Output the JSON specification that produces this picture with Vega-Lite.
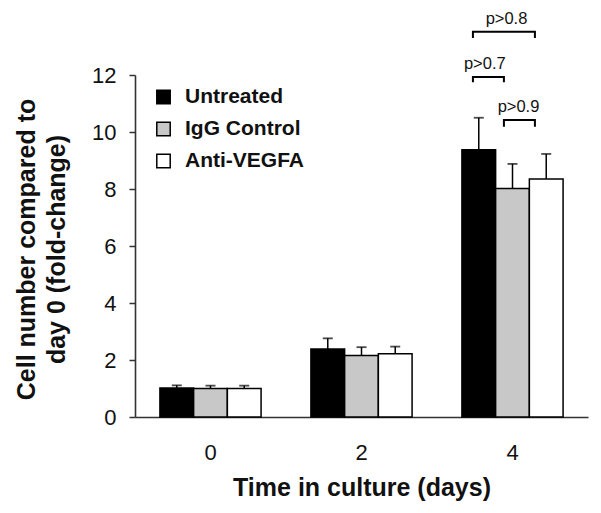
{
  "$schema": "https://vega.github.io/schema/vega-lite/v6.json",
  "width": 453,
  "height": 342,
  "autosize": {"type": "none"},
  "padding": {"left": 135, "top": 75, "right": 13, "bottom": 96},
  "background": "white",
  "config": {
    "view": {"stroke": null},
    "font": "Liberation Sans",
    "axis": {
      "grid": false,
      "domainColor": "#333333",
      "domainWidth": 1.6,
      "tickColor": "#333333",
      "tickWidth": 1.5,
      "labelFont": "Liberation Sans",
      "labelFontSize": 22,
      "labelColor": "#111111",
      "titleFont": "Liberation Sans",
      "titleFontSize": 25,
      "titleFontWeight": "bold",
      "titleColor": "#111111"
    },
    "legend": {
      "orient": "none",
      "legendX": 18,
      "legendY": 11.5,
      "padding": 0,
      "symbolType": "square",
      "symbolSize": 180,
      "symbolStrokeColor": "black",
      "symbolStrokeWidth": 1.5,
      "labelFont": "Liberation Sans",
      "labelFontSize": 21,
      "labelFontWeight": "bold",
      "labelColor": "#111111",
      "labelOffset": 11,
      "rowPadding": 10
    }
  },
  "datasets": {
    "bars": [
      {"day": 0, "group": "Untreated", "mean": 1.02, "upper": 1.11},
      {"day": 0, "group": "IgG Control", "mean": 1.0, "upper": 1.1},
      {"day": 0, "group": "Anti-VEGFA", "mean": 1.0, "upper": 1.1},
      {"day": 2, "group": "Untreated", "mean": 2.39, "upper": 2.76},
      {"day": 2, "group": "IgG Control", "mean": 2.16, "upper": 2.45},
      {"day": 2, "group": "Anti-VEGFA", "mean": 2.22, "upper": 2.47},
      {"day": 4, "group": "Untreated", "mean": 9.38, "upper": 10.5},
      {"day": 4, "group": "IgG Control", "mean": 8.02, "upper": 8.88},
      {"day": 4, "group": "Anti-VEGFA", "mean": 8.35, "upper": 9.23}
    ],
    "brackets": [
      {"bracket": "p>0.7", "day": 4, "group": "Untreated", "y": 11.75, "order": 1},
      {"bracket": "p>0.7", "day": 4, "group": "Untreated", "y": 11.93, "order": 2},
      {"bracket": "p>0.7", "day": 4, "group": "IgG Control", "y": 11.93, "order": 3},
      {"bracket": "p>0.7", "day": 4, "group": "IgG Control", "y": 11.75, "order": 4},
      {"bracket": "p>0.9", "day": 4, "group": "IgG Control", "y": 10.18, "order": 1},
      {"bracket": "p>0.9", "day": 4, "group": "IgG Control", "y": 10.42, "order": 2},
      {"bracket": "p>0.9", "day": 4, "group": "Anti-VEGFA", "y": 10.42, "order": 3},
      {"bracket": "p>0.9", "day": 4, "group": "Anti-VEGFA", "y": 10.18, "order": 4},
      {"bracket": "p>0.8", "day": 4, "group": "Untreated", "y": 13.3, "order": 1},
      {"bracket": "p>0.8", "day": 4, "group": "Untreated", "y": 13.52, "order": 2},
      {"bracket": "p>0.8", "day": 4, "group": "Anti-VEGFA", "y": 13.52, "order": 3},
      {"bracket": "p>0.8", "day": 4, "group": "Anti-VEGFA", "y": 13.3, "order": 4}
    ],
    "pleft": [
      {"label": "p>0.7", "day": 4, "group": "Untreated", "y": 11.93},
      {"label": "p>0.9", "day": 4, "group": "IgG Control", "y": 10.42}
    ],
    "pmid": [
      {"label": "p>0.8", "day": 4, "group": "IgG Control", "y": 13.52}
    ]
  },
  "encoding": {
    "x": {
      "field": "day",
      "type": "ordinal",
      "title": "Time in culture (days)",
      "scale": {"paddingInner": 0.33, "paddingOuter": 0.165},
      "axis": {
        "labelAngle": 0,
        "ticks": false,
        "tickSize": 0,
        "labelPadding": 25,
        "titleY": 78,
        "titleBaseline": "alphabetic"
      }
    }
  },
  "resolve": {"scale": {"xOffset": "independent"}},
  "layer": [
    {
      "layer": [
        {
          "data": {"name": "bars"},
          "mark": {"type": "bar", "stroke": "black", "strokeWidth": 1.5},
          "encoding": {
            "xOffset": {
              "field": "group",
              "type": "nominal",
              "scale": {"domain": ["Untreated", "IgG Control", "Anti-VEGFA"], "paddingInner": 0, "paddingOuter": 0}
            },
            "y": {
              "field": "mean",
              "type": "quantitative",
              "scale": {"domain": [0, 12], "nice": false},
              "title": ["Cell number compared to", "day 0 (fold-change)"],
              "axis": {
                "values": [0, 2, 4, 6, 8, 10, 12],
                "tickSize": 6,
                "labelPadding": 13,
                "titleAngle": -90,
                "titleX": -101,
                "titleY": 174,
                "titleAlign": "center",
                "titleBaseline": "alphabetic",
                "titleLineHeight": 30
              }
            },
            "color": {
              "field": "group",
              "type": "nominal",
              "scale": {"domain": ["Untreated", "IgG Control", "Anti-VEGFA"], "range": ["#000000", "#c8c8c8", "#ffffff"]},
              "legend": {"title": null}
            }
          }
        },
        {
          "data": {"name": "bars"},
          "mark": {"type": "rule", "color": "black", "strokeWidth": 1.5},
          "encoding": {
            "xOffset": {"field": "group", "type": "nominal"},
            "y": {"field": "mean", "type": "quantitative"},
            "y2": {"field": "upper"}
          }
        },
        {
          "data": {"name": "bars"},
          "mark": {"type": "tick", "color": "black", "thickness": 1.8, "size": 10, "orient": "horizontal"},
          "encoding": {
            "xOffset": {"field": "group", "type": "nominal"},
            "y": {"field": "upper", "type": "quantitative"}
          }
        },
        {
          "data": {"name": "pleft"},
          "mark": {"type": "text", "fontSize": 16.5, "font": "Liberation Sans", "color": "#111111", "align": "center", "baseline": "alphabetic", "dy": -8, "dx": 6},
          "encoding": {
            "xOffset": {"field": "group", "type": "nominal"},
            "y": {"field": "y", "type": "quantitative"},
            "text": {"field": "label"}
          }
        },
        {
          "data": {"name": "pmid"},
          "mark": {"type": "text", "fontSize": 16.5, "font": "Liberation Sans", "color": "#111111", "align": "center", "baseline": "alphabetic", "dy": -8, "dx": -6},
          "encoding": {
            "xOffset": {"field": "group", "type": "nominal"},
            "y": {"field": "y", "type": "quantitative"},
            "text": {"field": "label"}
          }
        }
      ]
    },
    {
      "data": {"name": "brackets"},
      "mark": {"type": "line", "color": "black", "strokeWidth": 2},
      "encoding": {
        "xOffset": {
          "field": "group",
          "type": "nominal",
          "scale": {"domain": ["Untreated", "IgG Control", "Anti-VEGFA"], "paddingInner": 0, "paddingOuter": 0, "range": [11, 73]}
        },
        "y": {"field": "y", "type": "quantitative"},
        "detail": {"field": "bracket"},
        "order": {"field": "order", "type": "quantitative"}
      }
    }
  ]
}
